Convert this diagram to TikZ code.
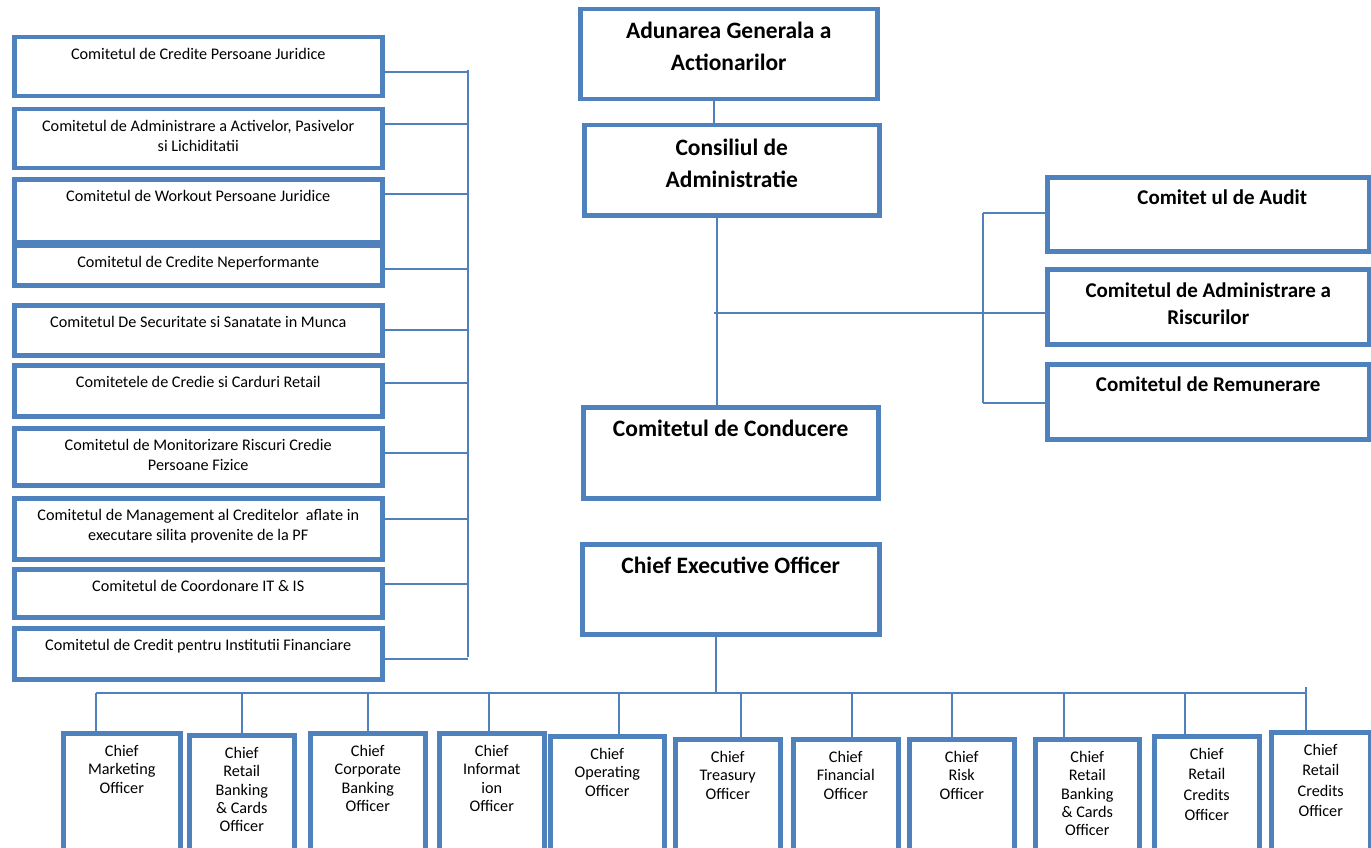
\documentclass[tikz,border=0pt]{standalone}
\usepackage{fontspec}
\setmainfont{Carlito}
\usepackage{tikz}
\usetikzlibrary{
	calc,
	positioning
	}
\definecolor{albastru}{RGB}{79,129,189}
\tikzstyle{casuta}=[draw=albastru,line width=4.5pt,fill=white,rectangle,inner sep=0pt,anchor=north west]
\tikzstyle{legatura}=[draw=albastru,line width=1.6pt]
\tikzstyle{text-mare}=[inner sep=0pt,align=center,font=\fontsize{23.5}{31.5}\selectfont\bfseries]
\tikzstyle{text-dreapta}=[inner sep=0pt,align=center,font=\fontsize{21}{27}\selectfont\bfseries]
\tikzstyle{text-mic}=[inner sep=0pt,align=center,font=\fontsize{16.2}{20.5}\selectfont]
\tikzstyle{text-ofiter}=[inner sep=0pt,align=center,font=\fontsize{16.2}{18.3}\selectfont]

\begin{document}
\begin{tikzpicture}[x=1pt,y=-1pt]
\useasboundingbox (0,0) rectangle (1371,848);
\fill[white] (0,0) rectangle (1371,848);

% conducerea
\node[casuta,minimum width=297pt,minimum height=90pt] (adunare) at (578,7) {};
\node[casuta,minimum width=295pt,minimum height=90pt] (consiliu) at (582,123) {};
\node[casuta,minimum width=295pt,minimum height=91pt] (conducere) at (581,405) {};
\node[casuta,minimum width=297pt,minimum height=90pt] (ceo) at (580,542) {};

\node[text-mare,below=15pt] (t-adunare) at (adunare.north) {Adunarea Generala a\\Actionarilor};
\node[text-mare,below=16pt] (t-consiliu) at (consiliu.north) {Consiliul de\\Administratie};
\node[text-mare,below=15pt] (t-conducere) at (conducere.north) {Comitetul de Conducere};
\node[text-mare,below=15pt] (t-ceo) at (ceo.north) {Chief Executive Officer};

% comitete dreapta
\node[casuta,minimum width=322pt,minimum height=74pt] (audit) at (1045,175) {};
\node[casuta,minimum width=322pt,minimum height=75pt] (riscuri) at (1045,267) {};
\node[casuta,minimum width=322pt,minimum height=75pt] (remunerare) at (1045,362) {};

\node[text-dreapta,below=15pt,xshift=14pt] (t-audit) at (audit.north) {Comitet ul de Audit};
\node[text-dreapta,below=16pt] (t-riscuri) at (riscuri.north) {Comitetul de Administrare a\\Riscurilor};
\node[text-dreapta,below=15pt] (t-remunerare) at (remunerare.north) {Comitetul de Remunerare};

% comitete stanga
\node[casuta,minimum width=368pt,minimum height=59pt] (com1) at (12,35) {};
\node[casuta,minimum width=368pt,minimum height=59pt] (com2) at (12,107) {};
\node[casuta,minimum width=368pt,minimum height=63pt] (com3) at (12,177) {};
\node[casuta,minimum width=368pt,minimum height=40pt] (com4) at (12,243) {};
\node[casuta,minimum width=368pt,minimum height=50pt] (com5) at (12,303) {};
\node[casuta,minimum width=368pt,minimum height=51pt] (com6) at (12,363) {};
\node[casuta,minimum width=368pt,minimum height=57pt] (com7) at (12,426) {};
\node[casuta,minimum width=368pt,minimum height=61pt] (com8) at (12,496) {};
\node[casuta,minimum width=368pt,minimum height=48pt] (com9) at (12,567) {};
\node[casuta,minimum width=368pt,minimum height=51pt] (com10) at (12,626) {};

\node[text-mic,below=13pt] (t-com1) at (com1.north) {Comitetul de Credite Persoane Juridice};
\node[text-mic,below=13pt] (t-com2) at (com2.north) {Comitetul de Administrare a Activelor, Pasivelor\\si Lichiditatii};
\node[text-mic,below=13pt] (t-com3) at (com3.north) {Comitetul de Workout Persoane Juridice};
\node[text-mic,below=13pt] (t-com4) at (com4.north) {Comitetul de Credite Neperformante};
\node[text-mic,below=13pt] (t-com5) at (com5.north) {Comitetul De Securitate si Sanatate in Munca};
\node[text-mic,below=13pt] (t-com6) at (com6.north) {Comitetele de Credie si Carduri Retail};
\node[text-mic,below=13pt] (t-com7) at (com7.north) {Comitetul de Monitorizare Riscuri Credie\\Persoane Fizice};
\node[text-mic,below=13pt] (t-com8) at (com8.north) {Comitetul de Management al Creditelor\ \ aflate in\\executare silita provenite de la PF};
\node[text-mic,below=13pt] (t-com9) at (com9.north) {Comitetul de Coordonare IT \& IS};
\node[text-mic,below=13pt] (t-com10) at (com10.north) {Comitetul de Credit pentru Institutii Financiare};

% ofiteri
\node[casuta,minimum width=117pt,minimum height=129pt] (o1) at (61,731) {};
\node[casuta,minimum width=105pt,minimum height=127pt] (o2) at (187,733) {};
\node[casuta,minimum width=115pt,minimum height=129pt] (o3) at (308,731) {};
\node[casuta,minimum width=105pt,minimum height=129pt] (o4) at (437,731) {};
\node[casuta,minimum width=114pt,minimum height=126pt] (o5) at (548,734) {};
\node[casuta,minimum width=105pt,minimum height=123pt] (o6) at (673,737) {};
\node[casuta,minimum width=105pt,minimum height=123pt] (o7) at (791,737) {};
\node[casuta,minimum width=105pt,minimum height=123pt] (o8) at (907,737) {};
\node[casuta,minimum width=104pt,minimum height=123pt] (o9) at (1033,737) {};
\node[casuta,minimum width=105pt,minimum height=126pt] (o10) at (1152,734) {};
\node[casuta,minimum width=99pt,minimum height=130pt] (o11) at (1269,730) {};

\node[text-ofiter,below=14pt] (t-o1) at (o1.north) {Chief\\Marketing\\Officer};
\node[text-ofiter,below=14pt] (t-o2) at (o2.north) {Chief\\Retail\\Banking\\\& Cards\\Officer};
\node[text-ofiter,below=14pt] (t-o3) at (o3.north) {Chief\\Corporate\\Banking\\Officer};
\node[text-ofiter,below=14pt] (t-o4) at (o4.north) {Chief\\Informat\\ion\\Officer};
\node[text-ofiter,below=14pt] (t-o5) at (o5.north) {Chief\\Operating\\Officer};
\node[text-ofiter,below=14pt] (t-o6) at (o6.north) {Chief\\Treasury\\Officer};
\node[text-ofiter,below=14pt] (t-o7) at (o7.north) {Chief\\Financial\\Officer};
\node[text-ofiter,below=14pt] (t-o8) at (o8.north) {Chief\\Risk\\Officer};
\node[text-ofiter,below=14pt] (t-o9) at (o9.north) {Chief\\Retail\\Banking\\\& Cards\\Officer};
\node[text-ofiter,below=14pt,font=\fontsize{16.2}{20.5}\selectfont] (t-o10) at (o10.north) {Chief\\Retail\\Credits\\Officer};
\node[text-ofiter,below=14pt,font=\fontsize{16.2}{20.5}\selectfont] (t-o11) at (o11.north) {Chief\\Retail\\Credits\\Officer};

% legaturi centru
\coordinate (ramura) at (714,313);
\draw[legatura] ([xshift=-15pt]adunare.south) -- ([xshift=-15pt]adunare.south |- consiliu.north);
\draw[legatura] ([xshift=-15pt]consiliu.south) -- ([xshift=-15pt]consiliu.south |- conducere.north);
\draw[legatura] (ramura) -- (ramura -| riscuri.west);

% bara dreapta
\coordinate (bara-dr-sus) at (983,213);
\coordinate (bara-dr-jos) at (983,403);
\draw[legatura] (bara-dr-sus) -- (bara-dr-jos);
\draw[legatura] (bara-dr-sus) -- (bara-dr-sus -| audit.west);
\draw[legatura] (bara-dr-jos) -- (bara-dr-jos -| remunerare.west);

% bara stanga
\coordinate (bara-st-sus) at (468,70);
\coordinate (bara-st-jos) at (468,657);
\draw[legatura] (bara-st-sus) -- (bara-st-jos);
\draw[legatura] ([yshift=-5.5pt]com1.east) -- ([yshift=-5.5pt]com1.east -| bara-st-sus);
\draw[legatura] ([yshift=14.5pt]com2.east) -- ([yshift=14.5pt]com2.east -| bara-st-sus);
\draw[legatura] ([yshift=16.5pt]com3.east) -- ([yshift=16.5pt]com3.east -| bara-st-sus);
\draw[legatura] ([yshift=-4pt]com4.east) -- ([yshift=-4pt]com4.east -| bara-st-sus);
\draw[legatura] (com5.east) -- (com5.east -| bara-st-sus);
\draw[legatura] ([yshift=7.5pt]com6.east) -- ([yshift=7.5pt]com6.east -| bara-st-sus);
\draw[legatura] ([yshift=3.5pt]com7.east) -- ([yshift=3.5pt]com7.east -| bara-st-sus);
\draw[legatura] ([yshift=9.5pt]com8.east) -- ([yshift=9.5pt]com8.east -| bara-st-sus);
\draw[legatura] ([yshift=9pt]com9.east) -- ([yshift=9pt]com9.east -| bara-st-sus);
\draw[legatura] ([yshift=-5.5pt]com10.east) -- ([yshift=-5.5pt]com10.east -| bara-st-sus);

% bara ofiteri
\coordinate (bus-st) at (96,693);
\coordinate (bus-dr) at (1306,693);
\draw[legatura] (bus-st) -- (bus-dr);
\draw[legatura] ([xshift=-15pt]ceo.south) -- ([xshift=-15pt]ceo.south |- bus-st);
\draw[legatura] (bus-st) -- (bus-st |- o1.north);
\draw[legatura] (o2.north |- bus-st) -- (o2.north);
\draw[legatura] (o3.north |- bus-st) -- (o3.north);
\draw[legatura] ([xshift=-2.5pt]o4.north |- bus-st) -- ([xshift=-2.5pt]o4.north);
\draw[legatura] ([xshift=12pt]o5.north |- bus-st) -- ([xshift=12pt]o5.north);
\draw[legatura] ([xshift=13.5pt]o6.north |- bus-st) -- ([xshift=13.5pt]o6.north);
\draw[legatura] ([xshift=6.5pt]o7.north |- bus-st) -- ([xshift=6.5pt]o7.north);
\draw[legatura] ([xshift=-9.5pt]o8.north |- bus-st) -- ([xshift=-9.5pt]o8.north);
\draw[legatura] ([xshift=-23pt]o9.north |- bus-st) -- ([xshift=-23pt]o9.north);
\draw[legatura] ([xshift=-21.5pt]o10.north |- bus-st) -- ([xshift=-21.5pt]o10.north);
\draw[legatura] ([yshift=6pt]bus-dr) -- (bus-dr |- o11.north);
\end{tikzpicture}
\end{document}
